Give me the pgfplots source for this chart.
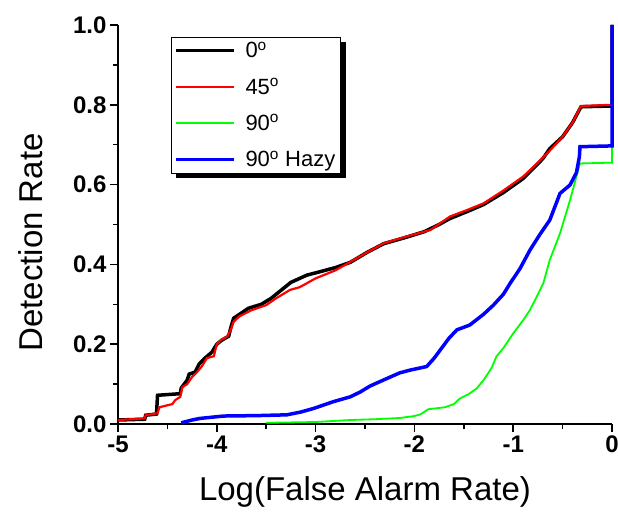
\documentclass[border=0pt]{standalone}
\usepackage{pgfplots}
\pgfplotsset{compat=1.18}
\usepackage{fontspec}
\setmainfont{Liberation Sans}
\definecolor{cRed}{RGB}{255,0,0}
\definecolor{cGreen}{RGB}{0,255,0}
\definecolor{cBlue}{RGB}{0,0,255}
\begin{document}
\begin{tikzpicture}
\useasboundingbox (0pt,0pt) rectangle (618pt,512pt);
\begin{axis}[
  at={(118pt,88pt)}, anchor=south west,
  scale only axis, width=494pt, height=399pt,
  xmin=-5, xmax=0, ymin=0, ymax=1,
  axis lines=left, axis line style={-, line width=1.5pt},
  clip=false,
  tick align=outside,
  major tick length=8pt, minor tick length=5pt,
  every tick/.style={line width=1.5pt, black},
  xtick={-5,-4,-3,-2,-1,0},
  xticklabels={-5,-4,-3,-2,-1,0},
  ytick={0,0.2,0.4,0.6,0.8,1.0},
  yticklabels={0.0,0.2,0.4,0.6,0.8,1.0},
  minor x tick num=1, minor y tick num=1,
  ticklabel style={font=\fontsize{24}{28}\selectfont\bfseries},
  xlabel={Log(False Alarm Rate)},
  ylabel={Detection Rate},
  label style={font=\fontsize{33}{39}\selectfont},
  xlabel style={at={(axis description cs:0.5,-0.1905)}, anchor=base},
  ylabel style={at={(axis description cs:-0.1538,0.455)}, anchor=base},
  legend style={name=leg, at={(0.1067,0.971)}, anchor=north west,
    draw=black, line width=0.6pt, fill=white,
    font=\fontsize{22}{26}\selectfont,
    inner xsep=3pt, inner ysep=3pt, row sep=15pt, column sep=8pt},
  legend cell align=left,
  legend image code/.code={\draw[#1] (0pt,0pt) -- (58pt,0pt);},
]
\addplot[black, line width=3.5pt] coordinates {
(-5,0.010) (-4.73,0.012) (-4.72,0.022) (-4.61,0.025) (-4.60,0.072) (-4.37,0.076)
(-4.36,0.09) (-4.30,0.11) (-4.28,0.125) (-4.22,0.13) (-4.18,0.15) (-4.12,0.165)
(-4.05,0.18) (-4.0,0.20) (-3.95,0.21) (-3.88,0.22) (-3.86,0.24) (-3.83,0.265)
(-3.77,0.275) (-3.68,0.29) (-3.55,0.30) (-3.45,0.315) (-3.35,0.335) (-3.25,0.355)
(-3.09,0.373) (-2.95,0.382) (-2.8,0.392) (-2.65,0.405) (-2.48,0.43) (-2.31,0.452)
(-2.11,0.466) (-1.9,0.482) (-1.75,0.50) (-1.64,0.515) (-1.47,0.532) (-1.30,0.55)
(-1.1,0.58) (-0.9,0.615) (-0.8,0.64) (-0.7,0.665) (-0.63,0.69) (-0.5,0.72)
(-0.4,0.755) (-0.314,0.795) (0,0.797) (0,1.0)};
\addlegendentry{0\textsuperscript{o}}
\addplot[cRed, line width=2.2pt] coordinates {
(-5,0.010) (-4.73,0.014) (-4.72,0.022) (-4.60,0.027) (-4.58,0.042) (-4.45,0.05)
(-4.42,0.06) (-4.37,0.068) (-4.35,0.092) (-4.30,0.10) (-4.25,0.118) (-4.2,0.13)
(-4.15,0.145) (-4.10,0.165) (-4.03,0.17) (-4.0,0.20) (-3.95,0.212) (-3.90,0.218)
(-3.86,0.235) (-3.83,0.256) (-3.77,0.27) (-3.65,0.285) (-3.5,0.298) (-3.4,0.315)
(-3.26,0.336) (-3.16,0.343) (-3.0,0.365) (-2.8,0.385) (-2.65,0.406) (-2.48,0.43)
(-2.31,0.453) (-2.11,0.468) (-1.84,0.486) (-1.64,0.52) (-1.47,0.536) (-1.30,0.553)
(-1.1,0.585) (-0.9,0.62) (-0.75,0.655) (-0.63,0.685) (-0.5,0.72) (-0.4,0.755)
(-0.314,0.797) (0,0.80) (0,1.0)};
\addlegendentry{45\textsuperscript{o}}
\addplot[cGreen, line width=1.8pt] coordinates {
(-3.5,0.003) (-3.0,0.005) (-2.65,0.01) (-2.4,0.012) (-2.15,0.015) (-2.0,0.02)
(-1.94,0.024) (-1.86,0.037) (-1.69,0.042) (-1.6,0.05) (-1.54,0.064) (-1.45,0.075)
(-1.37,0.089) (-1.3,0.11) (-1.22,0.14) (-1.17,0.169) (-1.1,0.19) (-1.0,0.227)
(-0.9,0.26) (-0.83,0.286) (-0.75,0.325) (-0.695,0.353) (-0.63,0.411) (-0.526,0.478)
(-0.425,0.561) (-0.324,0.653) (0,0.655) (0,1.0)};
\addlegendentry{90\textsuperscript{o}}
\addplot[cBlue, line width=3.5pt] coordinates {
(-4.36,0.003) (-4.25,0.01) (-4.17,0.014) (-4.05,0.017) (-3.93,0.02) (-3.6,0.021)
(-3.29,0.023) (-3.15,0.03) (-3.02,0.039) (-2.82,0.056) (-2.65,0.068) (-2.55,0.08)
(-2.45,0.095) (-2.315,0.11) (-2.15,0.128) (-2.045,0.135) (-1.876,0.144) (-1.80,0.165)
(-1.74,0.185) (-1.65,0.215) (-1.57,0.236) (-1.44,0.248) (-1.3,0.275) (-1.20,0.298)
(-1.1,0.325) (-1.03,0.353) (-0.93,0.39) (-0.83,0.436) (-0.73,0.475) (-0.63,0.511)
(-0.526,0.578) (-0.425,0.599) (-0.36,0.63) (-0.33,0.67) (-0.324,0.695) (0,0.697) (0,1.0)};
\addlegendentry{90\textsuperscript{o} Hazy}
\end{axis}
\fill[black] ([yshift=-5pt]leg.north east) rectangle ([xshift=5pt,yshift=-5pt]leg.south east);
\fill[black] ([xshift=5pt]leg.south west) rectangle ([xshift=5pt,yshift=-5pt]leg.south east);
\end{tikzpicture}
\end{document}
